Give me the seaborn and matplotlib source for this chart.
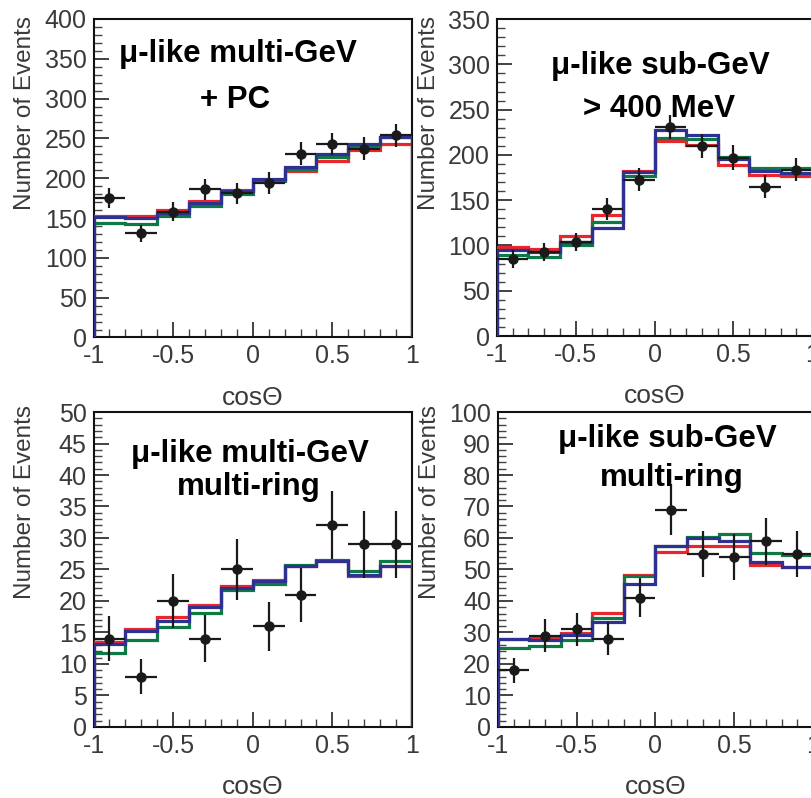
import numpy as np
import pandas as pd
import matplotlib
matplotlib.use("Agg")
import matplotlib.pyplot as plt
from matplotlib.ticker import MultipleLocator
import seaborn as sns

# ---- zenith-angle distributions: bin edges and centres ----
edges = [-1.0, -0.8, -0.6, -0.4, -0.2, 0.0, 0.2, 0.4, 0.6, 0.8, 1.0]
centers = [-0.9, -0.7, -0.5, -0.3, -0.1, 0.1, 0.3, 0.5, 0.7, 0.9]

# mu-like multi-GeV + PC
data_mgev = [175, 131, 158, 186, 181, 194, 231, 243, 237, 254]
err_mgev = [12.6, 10.5, 12.2, 13.4, 13.0, 14.3, 14.3, 13.5, 14.7, 14.3]
red_mgev = [152.6, 152.6, 160, 171, 185, 197.5, 209.6, 222, 235, 243]
green_mgev = [144, 143, 152.6, 165, 180, 197, 212, 227, 240, 252]
blue_mgev = [151.8, 150, 156, 168.5, 183.6, 198.7, 214.7, 231, 243, 252]

# mu-like sub-GeV > 400 MeV
data_sgev = [85, 93, 104, 140, 172.5, 230.5, 210, 197, 165, 183.5]
err_sgev = [9.5, 9.9, 9.9, 12.1, 12.8, 13.2, 13.6, 13.6, 12.8, 12.8]
red_sgev = [98, 96, 110, 133.6, 182, 215.7, 210.6, 189, 178, 177]
green_sgev = [89.5, 87.7, 101, 125.5, 177, 218.7, 218, 197.4, 186, 185]
blue_sgev = [95, 92.5, 103.5, 119, 181, 227, 222, 196, 182.7, 180]

# mu-like multi-GeV multi-ring
data_mgev_mr = [14, 8, 20, 14, 25, 16, 21, 32, 29, 29]
err_mgev_mr = [3.6, 2.8, 4.3, 3.7, 4.9, 3.9, 4.3, 5.4, 5.3, 5.3]
red_mgev_mr = [13.5, 15.6, 17.4, 19.4, 22.4, 23.4, 25.5, 26.3, 23.9, 25.6]
green_mgev_mr = [11.8, 13.8, 15.9, 18.1, 21.7, 22.7, 25.7, 26.5, 24.7, 26.3]
blue_mgev_mr = [13.2, 15.2, 16.9, 19.1, 22.1, 23.2, 25.6, 26.4, 24.2, 25.5]

# mu-like sub-GeV multi-ring
data_sgev_mr = [18, 29, 31, 28, 41, 69, 55, 54, 59, 55]
err_sgev_mr = [4.0, 5.2, 5.2, 5.2, 6.2, 8.2, 7.3, 7.4, 7.5, 7.3]
red_sgev_mr = [27.9, 28.3, 29.8, 36.3, 48.1, 55.5, 57.4, 57.4, 51.5, 50.7]
green_sgev_mr = [25, 25.8, 27.7, 34.6, 47.8, 57.4, 60.4, 61.2, 55.3, 54.6]
blue_sgev_mr = [27.9, 27.7, 29.2, 33.4, 45.5, 57.4, 60, 58.9, 52.5, 50.9]

x_ticks = [-1, -0.5, 0, 0.5, 1]
x_ticklabels = ["-1", "-0.5", "0", "0.5", "1"]

RED = "#e8262b"
GREEN = "#0d7a45"
BLUE = "#2e3192"

sns.set_theme(style="white")
plt.rcParams["font.family"] = ["Liberation Sans", "DejaVu Sans"]

fig = plt.figure(figsize=(8.11, 7.98), dpi=100)


def step_frame(values):
    """Outline of a histogram that drops to zero at both outer edges."""
    xs = [edges[0]] + list(edges[:-1]) + [edges[-1]]
    ys = [0.0] + list(values) + [0.0]
    return pd.DataFrame({"cos": xs, "events": ys})


def panel(rect, data, err, red, green, blue, ymax, ymajor, yminor, lines,
          ylab_y=0.705):
    ax = fig.add_axes(rect)
    for vals, col in ((red, RED), (green, GREEN), (blue, BLUE)):
        sns.lineplot(data=step_frame(vals), x="cos", y="events", ax=ax,
                     estimator=None, sort=False, drawstyle="steps-post",
                     color=col, linewidth=2.3, solid_joinstyle="miter",
                     zorder=3)
    ax.errorbar(centers, data, xerr=0.1, yerr=err, fmt="o", color="#1a1a1a",
                ms=6.5, elinewidth=1.6, capsize=0, zorder=4)

    ax.set_xlim(-1, 1)
    ax.set_ylim(0, ymax)
    ax.set_xticks(x_ticks)
    ax.set_xticklabels(x_ticklabels)
    ax.xaxis.set_minor_locator(MultipleLocator(0.1))
    ax.yaxis.set_major_locator(MultipleLocator(ymajor))
    ax.yaxis.set_minor_locator(MultipleLocator(yminor))
    ax.tick_params(axis="both", which="major", direction="in", length=11,
                   width=1.2, color="#222222", labelsize=18,
                   labelcolor="#3a3a3a", pad=5)
    ax.tick_params(axis="both", which="minor", direction="in", length=5.5,
                   width=1.0, color="#444444")
    ax.tick_params(axis="x", which="both", bottom=True, top=False)
    ax.tick_params(axis="y", which="both", left=True, right=False)
    for sp in ax.spines.values():
        sp.set_visible(True)
        sp.set_color("#111111")
        sp.set_linewidth(1.5)

    ax.set_xlabel("cos\u0398", fontsize=19, color="#3a3a3a")
    ax.set_ylabel("Number of Events", fontsize=17.5, color="#3a3a3a")
    ax.xaxis.set_label_coords(0.5, -0.152)
    ax.yaxis.set_label_coords(-0.182, ylab_y)

    for text, xf, yf in lines:
        ax.text(xf, yf, text, transform=ax.transAxes, ha="center",
                va="baseline", fontsize=22.5, fontweight="bold",
                color="black", zorder=5)
    return ax


panel([0.1153, 0.5771, 0.3927, 0.3991], data_mgev, err_mgev,
      red_mgev, green_mgev, blue_mgev, 400, 50, 10,
      [("\u03bc-like multi-GeV", 0.454, 0.865), ("+ PC", 0.444, 0.720)])

panel([0.6128, 0.5789, 0.3885, 0.3972], data_sgev, err_sgev,
      red_sgev, green_sgev, blue_sgev, 350, 50, 10,
      [("\u03bc-like sub-GeV", 0.518, 0.826), ("> 400 MeV", 0.516, 0.691)])

panel([0.1153, 0.0890, 0.3927, 0.3947], data_mgev_mr, err_mgev_mr,
      red_mgev_mr, green_mgev_mr, blue_mgev_mr, 50, 5, 1,
      [("\u03bc-like multi-GeV", 0.491, 0.841), ("multi-ring", 0.488, 0.735)],
      ylab_y=0.715)

panel([0.6140, 0.0890, 0.3885, 0.3947], data_sgev_mr, err_sgev_mr,
      red_sgev_mr, green_sgev_mr, blue_sgev_mr, 100, 10, 2,
      [("\u03bc-like sub-GeV", 0.538, 0.889), ("multi-ring", 0.551, 0.765)],
      ylab_y=0.715)

fig.savefig("out.png", dpi=100, facecolor="white")
